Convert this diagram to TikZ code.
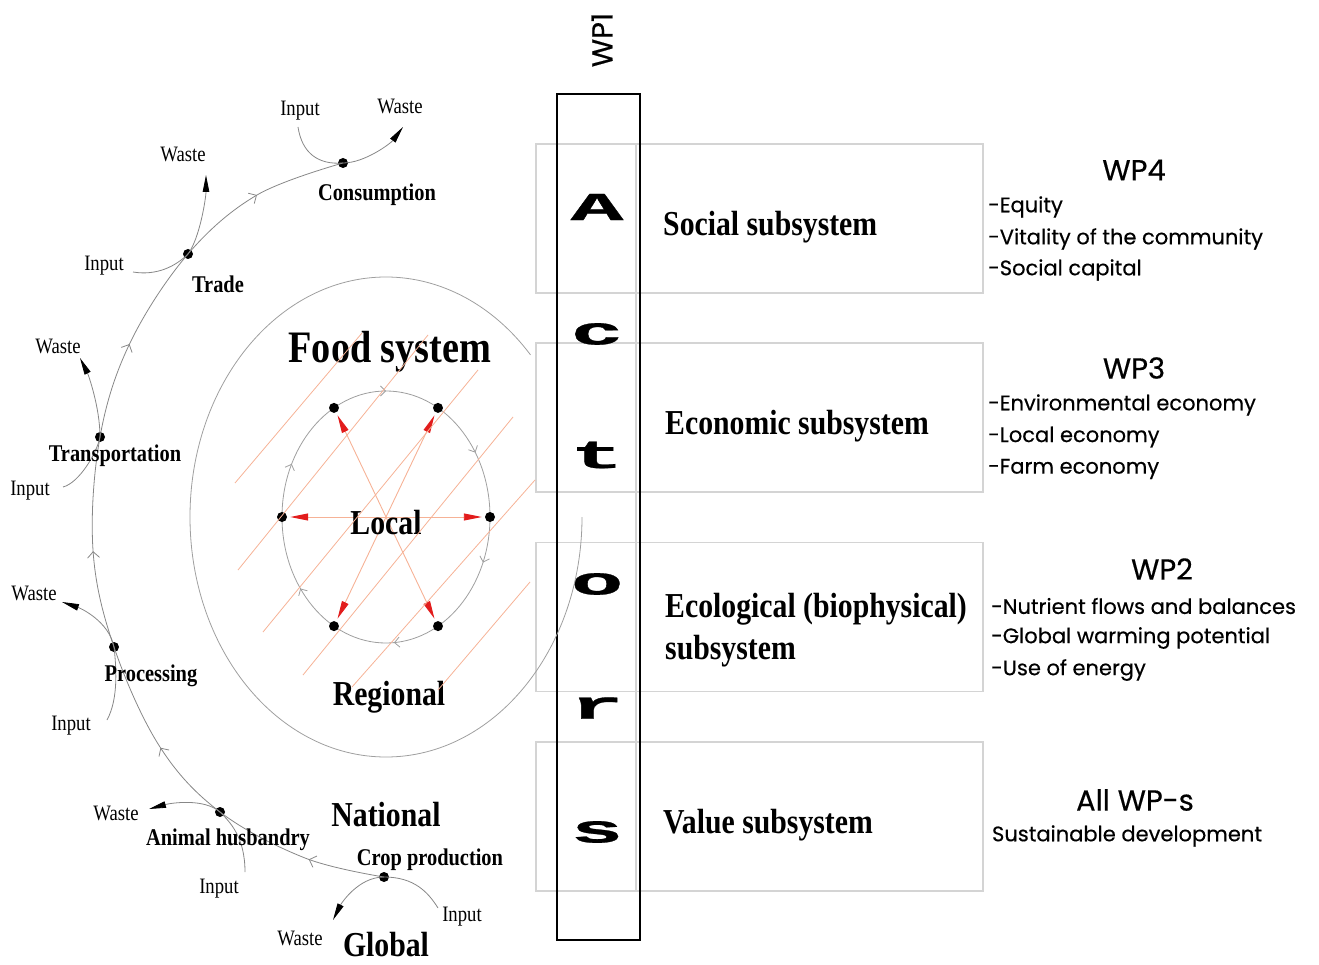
\documentclass[tikz,border=0pt]{standalone}
\usepackage{fontspec}
\usepackage{graphicx}
\usetikzlibrary{arrows.meta,decorations.markings}
\newfontfamily\tnr[FakeStretch=0.85]{Liberation Serif}
\newfontfamily\fut[FakeBold=0.4]{Poppins}
\newfontfamily\actf[FakeBold=0.6]{Liberation Mono}
\definecolor{hatch}{RGB}{246,178,150}
\definecolor{redhead}{RGB}{226,28,28}
\definecolor{boxgray}{RGB}{212,212,212}
\definecolor{linegray}{RGB}{135,135,135}
\begin{document}
\begin{tikzpicture}[x=1pt,y=-1pt,
  lab/.style={font=\tnr\fontsize{22}{24}\selectfont, inner sep=0},
  stage/.style={font=\tnr\bfseries\fontsize{24}{26}\selectfont, inner sep=0},
  level/.style={font=\tnr\bfseries\fontsize{35}{38}\selectfont, inner sep=0},
  title/.style={font=\tnr\bfseries\fontsize{45}{48}\selectfont, inner sep=0},
  sublab/.style={font=\tnr\bfseries\fontsize{35}{42}\selectfont, inner sep=0, anchor=west, align=left},
  wph/.style={font=\fut\fontsize{29}{32}\selectfont, inner sep=0},
  wpl/.style={font=\fut\fontsize{21}{24}\selectfont, inner sep=0, anchor=west},
  actl/.style={font=\actf\bfseries\fontsize{44}{44}\selectfont, inner sep=0},
  dot/.style={circle, fill=black, inner sep=0, minimum size=10pt},
  sbox/.style={draw=boxgray, line width=1.5pt, minimum width=447pt, minimum height=149pt, inner sep=0},
  flow/.style={draw=linegray, line width=0.8pt},
  wasteflow/.style={flow, -{Triangle[length=17pt,width=6.5pt,color=black]}},
  ell/.style={draw=linegray!80, line width=0.8pt},
  redarrow/.style={draw=hatch, line width=0.9pt, shorten >=3pt, -{Triangle[length=18pt,width=7pt,color=redhead]}},
  hatchline/.style={draw=hatch, line width=0.8pt},
  chev/.style={postaction={decorate}},
]
\useasboundingbox (0,0) rectangle (1319,965);

% ---------- right-hand boxes ----------
\node[sbox] (bsoc) at (759.5,218.5) {};
\node[sbox] (beco) at (759.5,417.5) {};
\node[sbox] (bbio) at (759.5,617) {};
\node[sbox] (bval) at (759.5,816.5) {};
\draw[boxgray, line width=1.2pt] (bsoc.north west -| 636,0) -- (bval.south west -| 636,0);
\node[draw, line width=2.5pt, minimum width=83pt, minimum height=846pt, inner sep=0] (actors) at (598.5,517) {};
\node[wph, rotate=90] (wp1) at (602,40) {WP1};

\node[actl] (lA) at (597,207) {\scalebox{2}[0.9]{A}};
\node[actl] (lc) at (597,334) {\scalebox{2}[0.9]{c}};
\node[actl] (lt) at (597,455) {\scalebox{2}[0.9]{t}};
\node[actl] (lo) at (597,584) {\scalebox{2}[0.9]{o}};
\node[actl] (lr) at (597,708) {\scalebox{2}[0.9]{r}};
\node[actl] (ls) at (597,832) {\scalebox{2}[0.9]{s}};

\node[sublab] (tsoc) at (663,227) {Social subsystem};
\node[sublab] (teco) at (665,426) {Economic subsystem};
\node[sublab] (tbio) at (665,630) {Ecological (biophysical)\\subsystem};
\node[sublab] (tval) at (663,825) {Value subsystem};

% ---------- WP texts ----------
\node[wph] (wp4) at (1134,170) {WP4};
\node[wpl] (w41) at (988,207) {-Equity};
\node[wpl] (w42) at (988,239) {-Vitality of the community};
\node[wpl] (w43) at (988,270) {-Social capital};
\node[wph] (wp3) at (1134,368) {WP3};
\node[wpl] (w31) at (988,405) {-Environmental economy};
\node[wpl] (w32) at (988,437) {-Local economy};
\node[wpl] (w33) at (988,469) {-Farm economy};
\node[wph] (wp2) at (1162,569) {WP2};
\node[wpl] (w21) at (991,606) {-Nutrient flows and balances};
\node[wpl] (w22) at (991,638) {-Global warming potential};
\node[wpl] (w23) at (991,670) {-Use of energy};
\node[wph] (wpa) at (1135,800) {All WP-s};
\node[wpl, anchor=center] (wsd) at (1127,836) {Sustainable development};

% ---------- food system circles ----------
\coordinate (fc) at (386,517);
\draw[ell] (fc) ++(0:196 and 240) arc[start angle=0, end angle=317.5, x radius=196, y radius=240];
\draw[ell, chev, decoration={markings,
   mark=at position 0.075 with {\arrow{Straight Barb[length=5pt,width=10pt]}},
   mark=at position 0.25 with {\arrow{Straight Barb[length=5pt,width=10pt]}},
   mark=at position 0.408 with {\arrow{Straight Barb[length=5pt,width=10pt]}},
   mark=at position 0.564 with {\arrow{Straight Barb[length=5pt,width=10pt]}},
   mark=at position 0.739 with {\arrow{Straight Barb[length=5pt,width=10pt]}},
   mark=at position 0.897 with {\arrow{Straight Barb[length=5pt,width=10pt]}}}]
   (fc) ++(180:104 and 126) arc[start angle=180, end angle=540, x radius=104, y radius=126];
\foreach \a in {0,60,...,300} {
  \path (fc) ++(\a:104 and 126) node[dot] (l\a) {};
}
\foreach \a in {0,60,...,300} {
  \draw[redarrow] (fc) -- (l\a);
}

\node[title] (tfood) at (390,352) {Food system};
\node[level] (tlocal) at (386,523) {Local};
\node[level] (tregional) at (389,697) {Regional};
\node[level] (tnational) at (386,815) {National};
\node[level] (tglobal) at (386,945) {Global};

% hatch
\draw[hatchline] (235,483) -- (362,333);
\draw[hatchline] (238,570) -- (428,335);
\draw[hatchline] (263,632) -- (478,370);
\draw[hatchline] (303,675) -- (513,417);
\draw[hatchline] (352,687) -- (535,480);
\draw[hatchline] (438,690) -- (530,582);

% ---------- chain ----------
\node[dot] (cp) at (384,877) {};
\node[dot] (ah) at (220,812) {};
\node[dot] (pr) at (114,647) {};
\node[dot] (tp) at (100,437) {};
\node[dot] (tr) at (188,254) {};
\node[dot] (cs) at (343,163) {};
\coordinate (m1) at (305,858);
\coordinate (m2) at (160,747);
\coordinate (m3) at (93,550);
\coordinate (m4) at (130,343);
\coordinate (m5) at (257,195);
\draw[flow, chev, decoration={markings,
   mark=at position 0.079 with {\arrow{Straight Barb[length=6pt,width=12pt]}},
   mark=at position 0.272 with {\arrow{Straight Barb[length=6pt,width=12pt]}},
   mark=at position 0.486 with {\arrow{Straight Barb[length=6pt,width=12pt]}},
   mark=at position 0.703 with {\arrow{Straight Barb[length=6pt,width=12pt]}},
   mark=at position 0.906 with {\arrow{Straight Barb[length=6pt,width=12pt]}}}]
   plot[smooth, tension=0.6] coordinates {(cp.center) (m1) (ah.center) (m2) (pr.center) (m3) (tp.center) (m4) (tr.center) (m5) (cs.center)};

% branch ends
\coordinate (csi) at (298,127);
\coordinate (csw) at (403,127);
\coordinate (tri) at (133,272);
\coordinate (trw) at (206,175);
\coordinate (tpi) at (63,487);
\coordinate (tpw) at (80,358);
\coordinate (pri) at (107,720);
\coordinate (prw) at (62,602);
\coordinate (ahi) at (245,872);
\coordinate (ahw) at (149,809);
\coordinate (cpi) at (438,908);
\coordinate (cpw) at (333,920);

\draw[flow] (csi) .. controls +(4,26) and +(-25,2) .. (cs.center);
\draw[wasteflow] (cs.center) .. controls +(22,0) and +(-12,16) .. (csw);
\draw[flow] (tri) .. controls +(24,4) and +(-12,12) .. (tr.center);
\draw[wasteflow] (tr.center) .. controls +(12,-16) and +(0,22) .. (trw);
\draw[flow] (tpi) .. controls +(16,-4) and +(-3,16) .. (tp.center);
\draw[wasteflow] (tp.center) .. controls +(0,-30) and +(8,16) .. (tpw);
\draw[flow] (pri) .. controls +(12,-22) and +(2,18) .. (pr.center);
\draw[wasteflow] (pr.center) .. controls +(-5,-26) and +(18,6) .. (prw);
\draw[flow] (ahi) .. controls +(0,-35) and +(10,10) .. (ah.center);
\draw[wasteflow] (ah.center) .. controls +(-16,-14) and +(22,-6) .. (ahw);
\draw[flow] (cp.center) .. controls +(30,0) and +(-10,-16) .. (cpi);
\draw[wasteflow] (cp.center) .. controls +(-26,0) and +(8,-16) .. (cpw);

% labels
\node[lab] (lcsi) at (300,111) {Input};
\node[lab] (lcsw) at (400,106) {Waste};
\node[stage] (lcs) at (377,195) {Consumption};
\node[lab] (ltrw) at (183,154) {Waste};
\node[lab] (ltri) at (104,266) {Input};
\node[stage] (ltr) at (218,284) {Trade};
\node[lab] (ltpw) at (58,346) {Waste};
\node[stage] (ltp) at (115,456) {Transportation};
\node[lab] (ltpi) at (30,491) {Input};
\node[lab] (lprw) at (34,593) {Waste};
\node[stage] (lpr) at (151,676) {Processing};
\node[lab] (lpri) at (71,726) {Input};
\node[lab] (lahw) at (116,813) {Waste};
\node[stage] (lah) at (228,840) {Animal husbandry};
\node[lab] (lahi) at (219,889) {Input};
\node[stage] (lcp) at (430,860) {Crop production};
\node[lab] (lcpi) at (462,917) {Input};
\node[lab] (lcpw) at (300,938) {Waste};
\end{tikzpicture}
\end{document}
